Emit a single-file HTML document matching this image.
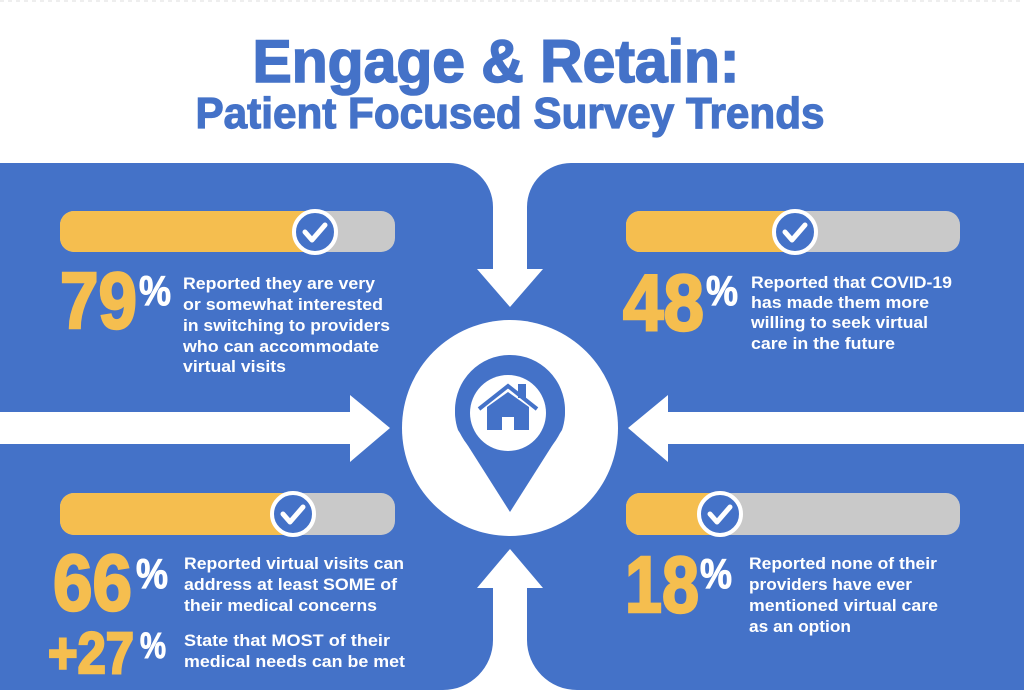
<!DOCTYPE html>
<html><head><meta charset="utf-8"><style>
html,body{margin:0;padding:0;background:#fff;}
svg{display:block;}
text{font-family:"Liberation Sans",Arial,sans-serif;font-weight:bold;}
</style></head><body>
<svg width="1024" height="696" viewBox="0 0 1024 696" xmlns="http://www.w3.org/2000/svg">
<rect width="1024" height="696" fill="#fff"/>
<line x1="0" y1="1" x2="1024" y2="1" stroke="#ddd" stroke-dasharray="4 4"/>
<text x="496" y="82" text-anchor="middle" font-size="60" fill="#4472c8" stroke="#4472c8" stroke-width="1.6" textLength="487" lengthAdjust="spacingAndGlyphs">Engage &amp; Retain:</text>
<text x="510" y="128" text-anchor="middle" font-size="44" fill="#4472c8" stroke="#4472c8" stroke-width="1.2" textLength="629" lengthAdjust="spacingAndGlyphs">Patient Focused Survey Trends</text>

<rect x="0" y="163" width="1024" height="527" fill="#4472c8"/>
<path d="M449,163 L571,163 A44,44 0 0 0 527,207 L527,269 L543,269 L510,307 L477,269 L493,269 L493,207 A44,44 0 0 0 449,163 Z" fill="#fff"/>
<path d="M443,690 L577,690 A50,50 0 0 1 527,640 L527,588 L543,588 L510,549 L477,588 L493,588 L493,640 A50,50 0 0 1 443,690 Z" fill="#fff"/>
<path d="M0,412 L350,412 L350,395 L390,428 L350,462 L350,444 L0,444 Z" fill="#fff"/>
<path d="M1024,412 L668,412 L668,395 L628,428 L668,462 L668,444 L1024,444 Z" fill="#fff"/>

<circle cx="510" cy="428" r="108" fill="#fff"/>
<path d="M458,430 A55,55 0 1 1 562,430 L510,512 Z" fill="#4472c8"/>
<circle cx="510" cy="410" r="55" fill="#4472c8"/>
<circle cx="508" cy="413" r="38" fill="#fff"/>
<polyline points="479,409 508,386 537,409" fill="none" stroke="#4472c8" stroke-width="4"/>
<rect x="518" y="384" width="8" height="14" fill="#4472c8"/>
<path d="M487,407 L508,392 L529,407 L529,430 L514,430 L514,417 L502,417 L502,430 L487,430 Z" fill="#4472c8"/>

<g>
<rect x="60" y="211" width="335" height="41" rx="14" fill="#c9c9c9"/>
<path d="M74,211 L315,211 L315,252 L74,252 A14,14 0 0 1 60,238 L60,225 A14,14 0 0 1 74,211 Z" fill="#f5be4f"/>
<rect x="626" y="211" width="334" height="41" rx="14" fill="#c9c9c9"/>
<path d="M640,211 L795,211 L795,252 L640,252 A14,14 0 0 1 626,238 L626,225 A14,14 0 0 1 640,211 Z" fill="#f5be4f"/>
<rect x="60" y="493" width="335" height="42" rx="14" fill="#c9c9c9"/>
<path d="M74,493 L293,493 L293,535 L74,535 A14,14 0 0 1 60,521 L60,507 A14,14 0 0 1 74,493 Z" fill="#f5be4f"/>
<rect x="626" y="493" width="334" height="42" rx="14" fill="#c9c9c9"/>
<path d="M640,493 L720,493 L720,535 L640,535 A14,14 0 0 1 626,521 L626,507 A14,14 0 0 1 640,493 Z" fill="#f5be4f"/>
</g>
<g fill="#4472c8" stroke="#fff" stroke-width="4">
<circle cx="315" cy="232" r="21"/><circle cx="795" cy="232" r="21"/>
<circle cx="293" cy="514" r="21"/><circle cx="720" cy="514" r="21"/>
</g>
<g fill="none" stroke="#fff" stroke-width="5" stroke-linecap="round" stroke-linejoin="round">
<polyline points="305,232 312,240 325,225"/>
<polyline points="785,232 792,240 805,225"/>
<polyline points="283,514 290,522 303,507"/>
<polyline points="710,514 717,522 730,507"/>
</g>

<g fill="#f5be4f" stroke="#f5be4f" stroke-width="2.5" font-size="80">
<text x="60" y="328" textLength="77" lengthAdjust="spacingAndGlyphs">79</text>
<text x="623" y="330" textLength="81" lengthAdjust="spacingAndGlyphs">48</text>
<text x="53" y="610" textLength="79" lengthAdjust="spacingAndGlyphs">66</text>
<text x="625" y="612" textLength="74" lengthAdjust="spacingAndGlyphs">18</text>
<text x="48" y="673" font-size="58" textLength="86" lengthAdjust="spacingAndGlyphs">+27</text>
</g>
<g fill="#fff" stroke="#fff" stroke-width="1" font-size="42">
<text x="139" y="305" textLength="32" lengthAdjust="spacingAndGlyphs">%</text>
<text x="706" y="305" textLength="32" lengthAdjust="spacingAndGlyphs">%</text>
<text x="136" y="588" textLength="32" lengthAdjust="spacingAndGlyphs">%</text>
<text x="700" y="588" textLength="32" lengthAdjust="spacingAndGlyphs">%</text>
<text x="140" y="658" font-size="36" textLength="26" lengthAdjust="spacingAndGlyphs">%</text>
</g>

<g fill="#fff" font-size="17">
<text x="183" y="289" textLength="192" lengthAdjust="spacingAndGlyphs">Reported they are very</text>
<text x="183" y="310" textLength="200" lengthAdjust="spacingAndGlyphs">or somewhat interested</text>
<text x="183" y="331" textLength="207" lengthAdjust="spacingAndGlyphs">in switching to providers</text>
<text x="183" y="352" textLength="196" lengthAdjust="spacingAndGlyphs">who can accommodate</text>
<text x="183" y="372" textLength="103" lengthAdjust="spacingAndGlyphs">virtual visits</text>

<text x="751" y="288" textLength="201" lengthAdjust="spacingAndGlyphs">Reported that COVID-19</text>
<text x="751" y="308" textLength="178" lengthAdjust="spacingAndGlyphs">has made them more</text>
<text x="751" y="328" textLength="177" lengthAdjust="spacingAndGlyphs">willing to seek virtual</text>
<text x="751" y="349" textLength="144" lengthAdjust="spacingAndGlyphs">care in the future</text>

<text x="184" y="569" textLength="220" lengthAdjust="spacingAndGlyphs">Reported virtual visits can</text>
<text x="184" y="590" textLength="213" lengthAdjust="spacingAndGlyphs">address at least SOME of</text>
<text x="184" y="611" textLength="193" lengthAdjust="spacingAndGlyphs">their medical concerns</text>
<text x="184" y="646" textLength="206" lengthAdjust="spacingAndGlyphs">State that MOST of their</text>
<text x="184" y="667" textLength="221" lengthAdjust="spacingAndGlyphs">medical needs can be met</text>

<text x="749" y="569" textLength="188" lengthAdjust="spacingAndGlyphs">Reported none of their</text>
<text x="749" y="590" textLength="163" lengthAdjust="spacingAndGlyphs">providers have ever</text>
<text x="749" y="611" textLength="189" lengthAdjust="spacingAndGlyphs">mentioned virtual care</text>
<text x="749" y="632" textLength="102" lengthAdjust="spacingAndGlyphs">as an option</text>
</g>
</svg>
</body></html>
